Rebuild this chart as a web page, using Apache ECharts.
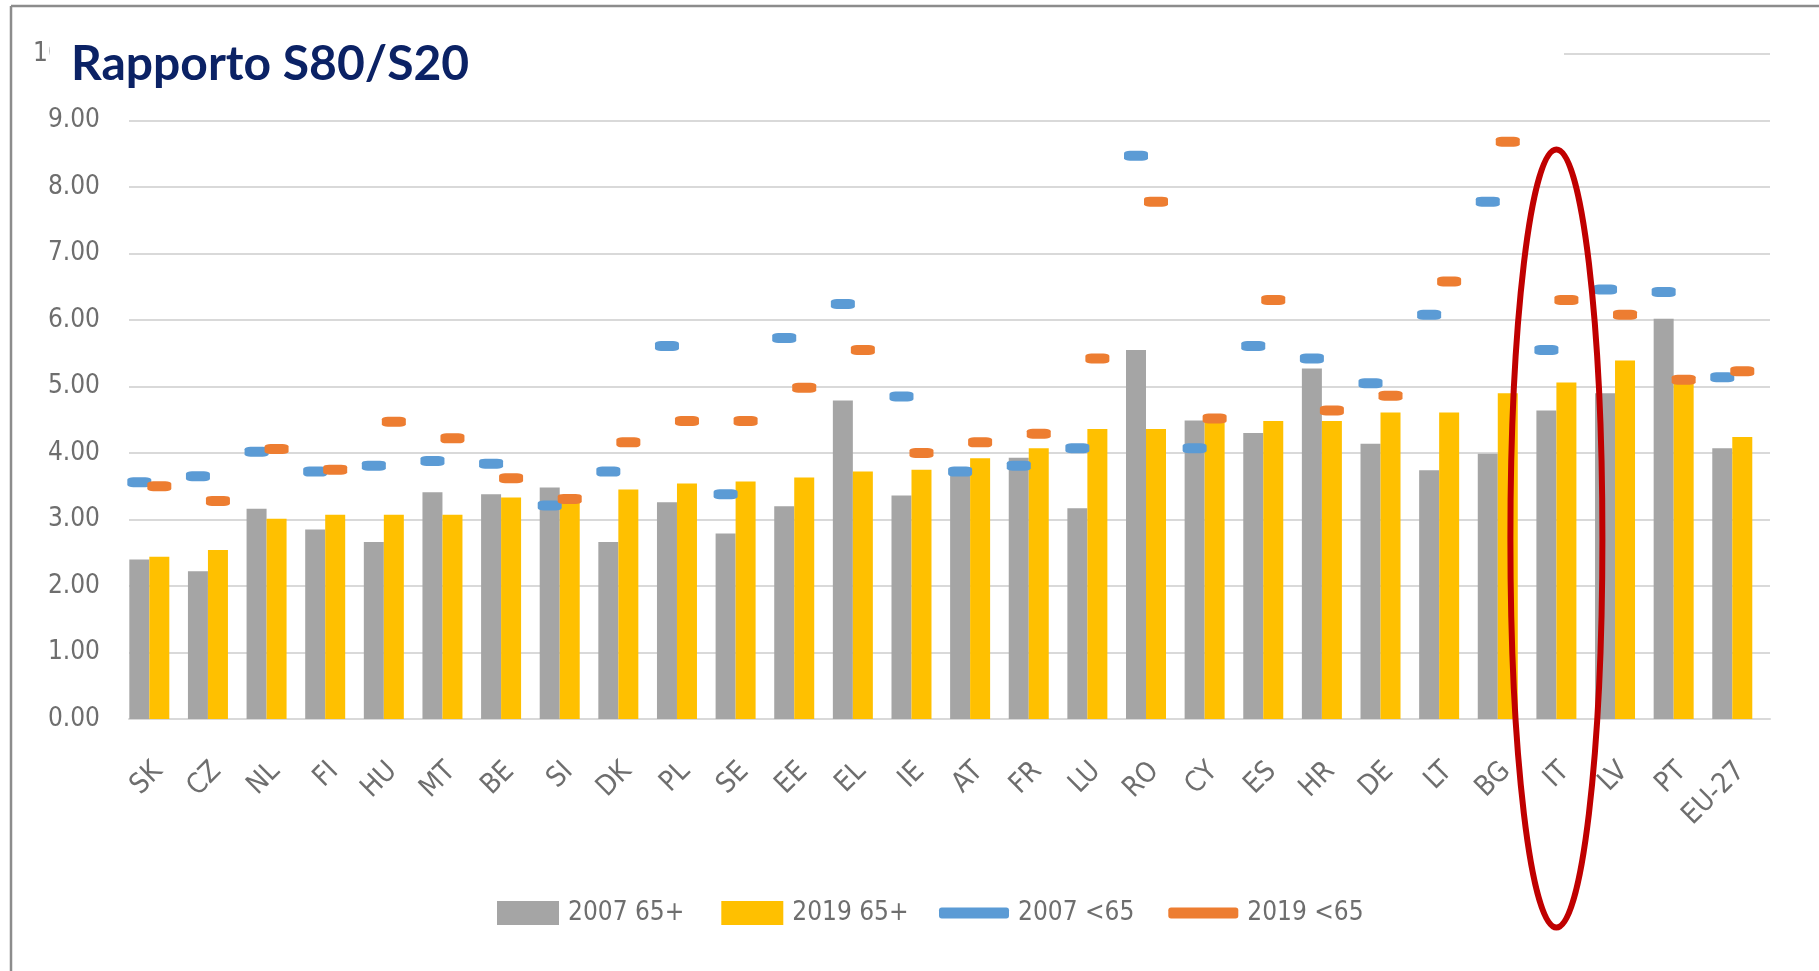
<!DOCTYPE html>
<html>
<head>
<meta charset="utf-8">
<script src="https://cdn.jsdelivr.net/npm/echarts@6/dist/echarts.min.js"></script>
<style>
html,body{margin:0;padding:0;background:#fff;}
#c{width:1819px;height:971px;}
</style>
</head>
<body>
<div id="c"></div>
<script>
var categories = ['SK','CZ','NL','FI','HU','MT','BE','SI','DK','PL','SE','EE','EL','IE','AT','FR','LU','RO','CY','ES','HR','DE','LT','BG','IT','LV','PT','EU-27'];
var s2007over65 = [2.40,2.22,3.16,2.85,2.66,3.41,3.38,3.48,2.66,3.26,2.79,3.20,4.79,3.36,3.78,3.93,3.17,5.55,4.49,4.30,5.27,4.14,3.74,3.99,4.64,4.90,6.02,4.07];
var s2019over65 = [2.44,2.54,3.01,3.07,3.07,3.07,3.33,3.30,3.45,3.54,3.57,3.63,3.72,3.75,3.92,4.07,4.36,4.36,4.46,4.48,4.48,4.61,4.61,4.90,5.06,5.39,5.07,4.24];
var s2007under65 = [3.56,3.65,4.02,3.72,3.81,3.88,3.84,3.21,3.72,5.61,3.38,5.73,6.24,4.85,3.72,3.81,4.07,8.47,4.07,5.61,5.42,5.05,6.08,7.78,5.55,6.46,6.42,5.14];
var s2019under65 = [3.50,3.28,4.06,3.75,4.47,4.22,3.62,3.31,4.16,4.48,4.48,4.98,5.55,4.00,4.16,4.29,5.42,7.78,4.52,6.30,4.64,4.86,6.58,8.68,6.30,6.08,5.10,5.23];
var seriesNames = ['2007 65+','2019 65+','2007 <65','2019 <65'];
var highlighted = 'IT';
var titleText = 'Rapporto S80/S20';

var FONT = "'Liberation Sans Narrow','DejaVu Sans Condensed','Lato','Liberation Sans',sans-serif";
var FS = 26;
var TXT = '#6e6e6e';
var GRIDC = '#d9d9d9';

var chart = echarts.init(document.getElementById('c'));
var option = {
  backgroundColor: '#ffffff',
  animation: false,
  grid: [
    {left: 120, width: 1641.6, top: 54, height: 665},
    {left: 129, width: 1641, top: 54, height: 665}
  ],
  xAxis: [
    {type: 'category', gridIndex: 0, data: categories, show: false},
    {type: 'category', gridIndex: 1, data: categories,
     axisLine: {show: true, lineStyle: {color: GRIDC, width: 2}},
     axisTick: {show: false},
     axisLabel: {interval: 0, rotate: 45, margin: 48, fontSize: 28, color: TXT, fontFamily: FONT}}
  ],
  yAxis: [
    {type: 'value', gridIndex: 0, min: 0, max: 10, interval: 1, show: false},
    {type: 'value', gridIndex: 1, min: 0, max: 10, interval: 1,
     axisLine: {show: false}, axisTick: {show: false},
     axisLabel: {margin: 29, fontSize: FS, color: TXT, fontFamily: FONT,
                 formatter: function (v) { return v.toFixed(2); }},
     splitLine: {lineStyle: {color: GRIDC, width: 2}}}
  ],
  legend: [
    {data: [seriesNames[0], seriesNames[1]], left: 497, top: 899, orient: 'horizontal',
     itemWidth: 62, itemHeight: 24, itemGap: 37, padding: 0, icon: 'rect',
     textStyle: {fontSize: FS, color: TXT, fontFamily: FONT, lineHeight: 28, padding: [0,0,0,4]}},
    {data: [seriesNames[2], seriesNames[3]], left: 939, top: 899, orient: 'horizontal',
     itemWidth: 70, itemHeight: 11, itemGap: 34, padding: 0, icon: 'roundRect',
     textStyle: {fontSize: FS, color: TXT, fontFamily: FONT, lineHeight: 28, padding: [0,0,0,4]}}
  ],
  series: [
    {name: seriesNames[0], type: 'bar', xAxisIndex: 0, yAxisIndex: 0, data: s2007over65,
     barWidth: 20, barGap: '0%', itemStyle: {color: '#a5a5a5'}},
    {name: seriesNames[1], type: 'bar', xAxisIndex: 0, yAxisIndex: 0, data: s2019over65,
     barWidth: 20, barGap: '0%', itemStyle: {color: '#ffc000'}},
    {name: seriesNames[2], type: 'scatter', xAxisIndex: 0, yAxisIndex: 0, data: s2007under65,
     symbol: 'roundRect', symbolSize: [24, 10], symbolOffset: [-10, 0], z: 5,
     itemStyle: {color: '#5b9bd5', opacity: 1}},
    {name: seriesNames[3], type: 'scatter', xAxisIndex: 0, yAxisIndex: 0, data: s2019under65,
     symbol: 'roundRect', symbolSize: [24, 10], symbolOffset: [10, 0], z: 5,
     itemStyle: {color: '#ed7d31', opacity: 1}}
  ]
};
chart.setOption(option);

var itX = chart.convertToPixel({xAxisIndex: 0}, highlighted);
var top10 = chart.convertToPixel({yAxisIndex: 0}, 10);
chart.setOption({
  graphic: [
    {id: 'frameTop', type: 'line', z: 300, shape: {x1: 11, y1: 6, x2: 1819, y2: 6},
     style: {stroke: '#8c8c8c', lineWidth: 2.5}},
    {id: 'frameLeft', type: 'line', z: 300, shape: {x1: 11, y1: 6, x2: 11, y2: 971},
     style: {stroke: '#8c8c8c', lineWidth: 2.5}},
    {id: 'titleBg', type: 'rect', z: 150, shape: {x: 50, y: top10 - 26, width: 1514, height: 60},
     style: {fill: '#ffffff'}},
    {id: 'title', type: 'text', z: 160, x: 71, y: 65,
     style: {text: titleText, fill: '#0b2265', font: "bold 48px Lato, 'Liberation Sans', sans-serif",
             verticalAlign: 'middle', align: 'left'}},
    {id: 'ellipse', type: 'ellipse', z: 200,
     shape: {cx: itX, cy: 538.5, rx: 46, ry: 389},
     style: {fill: 'none', stroke: '#c00000', lineWidth: 6}}
  ]
});
</script>
</body>
</html>
